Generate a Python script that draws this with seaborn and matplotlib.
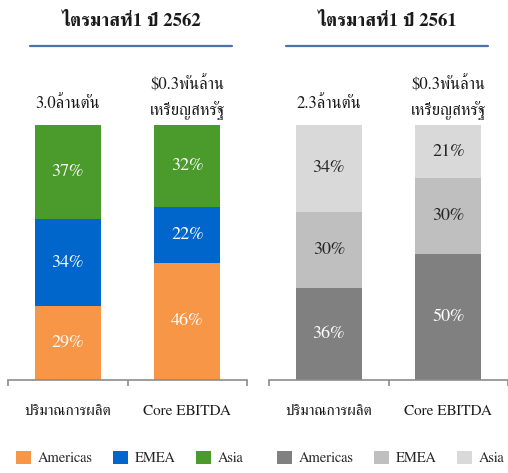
import matplotlib
matplotlib.use("Agg")
import matplotlib.pyplot as plt
import matplotlib.patches as mpatches
from matplotlib.lines import Line2D
import seaborn as sns
import pandas as pd

# ---- data ----
categories = ["ปริมาณการผลิต", "Core EBITDA"]
regions = ["Americas", "EMEA", "Asia"]

titles = ["ไตรมาสที่1 ปี 2562", "ไตรมาสที่1 ปี 2561"]
top_labels = [["3.0ล้านตัน", "\\$0.3พันล้าน\nเหรียญสหรัฐ"],
              ["2.3ล้านตัน", "\\$0.3พันล้าน\nเหรียญสหรัฐ"]]

# percent share per region, [production, EBITDA]
americas_2562 = [29, 46]
emea_2562 = [34, 22]
asia_2562 = [37, 32]

americas_2561 = [36, 50]
emea_2561 = [30, 30]
asia_2561 = [34, 21]

colors_2562 = ["#F79646", "#0066CC", "#4A9A2C"]
colors_2561 = ["#808080", "#BFBFBF", "#D9D9D9"]
text_2562 = ["white", "white", "white"]
text_2561 = ["white", "#262626", "#262626"]

FONT = ["FreeSerif", "DejaVu Serif"]

sns.set_theme(style="white")
plt.rcParams["font.family"] = FONT

fig = plt.figure(figsize=(5.08, 4.73), dpi=100)
ax_l = fig.add_axes([8 / 508, 1 - 380 / 473, 239 / 508, 255 / 473])
ax_r = fig.add_axes([269 / 508, 1 - 380 / 473, 239 / 508, 255 / 473])

panels = [
    (ax_l, [americas_2562, emea_2562, asia_2562], colors_2562, text_2562),
    (ax_r, [americas_2561, emea_2561, asia_2561], colors_2561, text_2561),
]

for i, (ax, series, colors, tcolors) in enumerate(panels):
    df = pd.DataFrame({"category": categories})
    for name, vals in zip(regions, series):
        df[name] = vals
    total = df[regions].sum(axis=1)
    # normalise to 100 so every bar has the same height
    share = df[regions].div(total, axis=0) * 100
    cum = share.cumsum(axis=1)

    # draw from the top layer down so the stacks overlap
    for r in range(len(regions) - 1, -1, -1):
        sns.barplot(x=df["category"], y=cum[regions[r]], color=colors[r],
                    width=0.55, saturation=1, ax=ax, order=categories,
                    linewidth=0)

    # percentage labels centred in each segment
    for j in range(len(categories)):
        for r in range(len(regions)):
            mid = cum.iloc[j, r] - share.iloc[j, r] / 2
            ax.text(j, mid, f"{series[r][j]}%", ha="center", va="center",
                    color=tcolors[r], fontsize=13)

    # labels above the bars
    ax.text(0, 105, top_labels[i][0], ha="center", va="bottom", fontsize=12,
            color="#1a1a1a")
    ax.text(1, 102, top_labels[i][1], ha="center", va="bottom", fontsize=12,
            color="#1a1a1a", linespacing=1.5)

    ax.set_xlim(-0.5, 1.5)
    ax.set_ylim(0, 100)
    ax.set_xlabel("")
    ax.set_ylabel("")
    ax.set_yticks([])
    ax.set_xticks([-0.5, 0.5, 1.5])
    ax.set_xticklabels([])
    ax.set_xticks([0, 1], categories, minor=True)
    ax.tick_params(axis="x", which="major", direction="out", length=4.5,
                   width=1.2, color="#8C8C8C", bottom=True)
    ax.tick_params(axis="x", which="minor", length=0, pad=18, labelsize=11,
                   labelcolor="#1a1a1a")
    for s in ["top", "right", "left"]:
        ax.spines[s].set_visible(False)
    ax.spines["bottom"].set_color("#8C8C8C")
    ax.spines["bottom"].set_linewidth(1.2)

    # legend under each panel
    handles = [mpatches.Patch(facecolor=c, edgecolor="none", label=n)
               for c, n in zip(colors, regions)]
    ax.legend(handles=handles, loc="center left", ncol=3, frameon=False,
              bbox_to_anchor=(8 / 239, -0.305), fontsize=10.5,
              borderpad=0, borderaxespad=0,
              handlelength=1.0, handleheight=1.0, handletextpad=0.5,
              columnspacing=1.4, labelcolor="#262626")

# titles with underline
for x_c, (x0, x1), t in [(131, (30, 232), titles[0]), (387, (286, 488), titles[1])]:
    fig.text(x_c / 508, 1 - 21 / 473, t, ha="center", va="center",
             fontsize=13.5, fontweight="bold", color="#1a1a1a")
    fig.add_artist(Line2D([x0 / 508, x1 / 508], [1 - 46 / 473, 1 - 46 / 473],
                          transform=fig.transFigure, color="#4A72A8", lw=1.6))

fig.savefig("out.png", dpi=100)
